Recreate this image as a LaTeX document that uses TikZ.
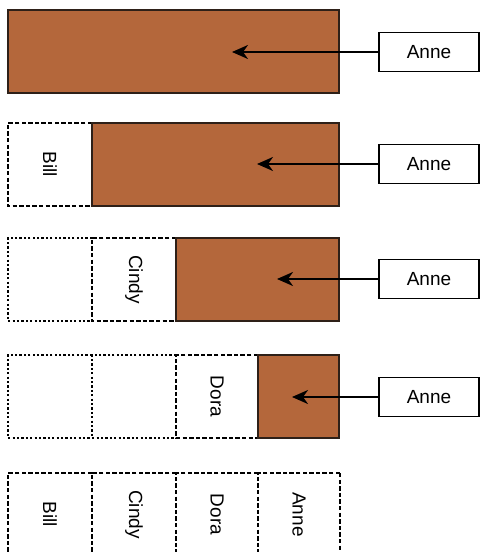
\documentclass[tikz,border=0pt]{standalone}
\usepackage{fontspec}
\setmainfont{Liberation Sans}
\usetikzlibrary{arrows.meta, positioning}
\definecolor{brick}{HTML}{B4673B}
\definecolor{brickline}{HTML}{2E2018}

\begin{document}
\begin{tikzpicture}[
    x=0.5pt, y=-0.5pt,
    >={Stealth[length=8pt, width=7pt, inset=2.5pt]},
    every node/.style={inner sep=0pt, outer sep=0pt,
                       font=\fontsize{9.5}{11}\selectfont},
    cell/.style={minimum height=41.5pt, minimum width=#1},
    cell/.default=42pt,
    heldline/.style={line width=1.2pt, dash pattern=on 2.2pt off 1.1pt},
    freedline/.style={line width=1.1pt, dash pattern=on 1.1pt off 1.1pt},
    rest/.style={cell=#1, draw=brickline, fill=brick, line width=1.1pt},
    tag/.style={draw, line width=0.8pt, minimum width=50pt,
                minimum height=19.5pt},
    ptr/.style={->, line width=1.1pt}
  ]
  \clip (0,0) rectangle (481,552);

  % row 1
  \node[rest=165.5pt, anchor=north west] (wide1) at (8,10) {};
  \node[tag] (tag1) at (429,52) {Anne};
  \coordinate (tip1) at (232,52);
  \draw[ptr] (tag1) -- (tip1);

  % row 2
  \node[cell, anchor=north west] (bill2) at (8,123) {\rotatebox{-90}{Bill}};
  \node[rest=123.5pt, right=0pt of bill2] (wide2) {};
  \node[tag] (tag2) at (429,164) {Anne};
  \coordinate (tip2) at (257,164);

  % row 3
  \node[cell, anchor=north west] (blank3a) at (8,238) {};
  \node[cell, right=0pt of blank3a] (cindy3) {\rotatebox{-90}{Cindy}};
  \node[rest=81.5pt, right=0pt of cindy3] (wide3) {};
  \node[tag] (tag3) at (429,279) {Anne};
  \coordinate (tip3) at (277,279);

  % row 4
  \node[cell, anchor=north west] (blank4a) at (8,355) {};
  \node[cell, right=0pt of blank4a] (blank4b) {};
  \node[cell=41pt, right=0pt of blank4b] (dora4) {\rotatebox{-90}{Dora}};
  \node[rest=40.5pt, right=0pt of dora4] (wide4) {};
  \node[tag] (tag4) at (429,397) {Anne};
  \coordinate (tip4) at (292,397);

  % row 5
  \node[cell, anchor=north west] (bill5) at (8,473) {\rotatebox{-90}{Bill}};
  \node[cell, right=0pt of bill5] (cindy5) {\rotatebox{-90}{Cindy}};
  \node[cell=41pt, right=0pt of cindy5] (dora5) {\rotatebox{-90}{Dora}};
  \node[cell=41pt, right=0pt of dora5] (anne5) {\rotatebox{-90}{Anne}};

  % open-sided outlines, the next cell closes each one
  \foreach \c in {blank3a, blank4a, blank4b}
    \draw[freedline] (\c.north east) -- (\c.north west)
      -- (\c.south west) -- (\c.south east);
  \foreach \c in {bill2, cindy3, dora4, bill5, cindy5, dora5, anne5}
    \draw[heldline] (\c.north east) -- (\c.north west)
      -- (\c.south west) -- (\c.south east);
  \draw[heldline] (anne5.north east) -- (anne5.south east);

  % redraw the taken blocks over the outlines
  \foreach \r in {2,3,4}
    \draw[draw=brickline, line width=1.1pt] (wide\r.north west) rectangle (wide\r.south east);

  \draw[ptr] (tag2) -- (tip2);
  \draw[ptr] (tag3) -- (tip3);
  \draw[ptr] (tag4) -- (tip4);
\end{tikzpicture}
\end{document}
